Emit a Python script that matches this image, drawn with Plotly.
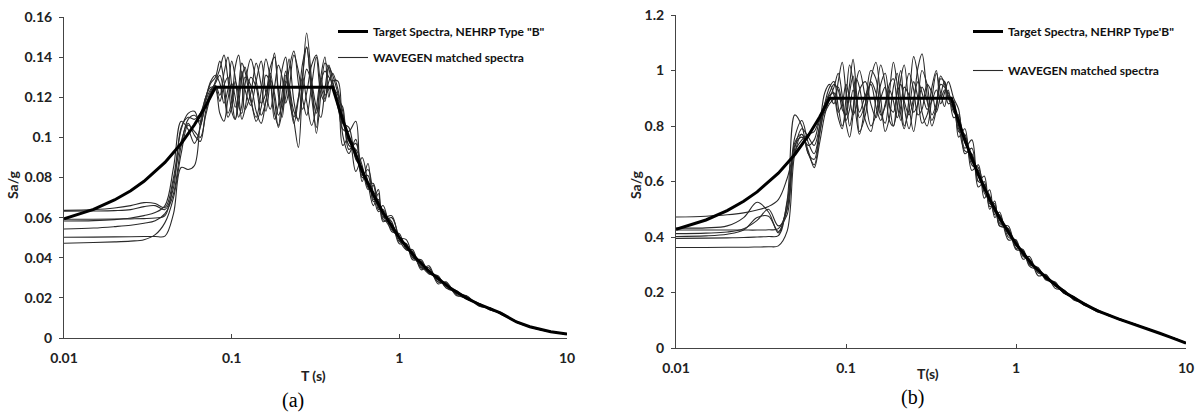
import plotly.graph_objects as go

# ---------------- data ----------------
# Shared period grid (s) for the matched spectra
T = [0.01, 0.015, 0.02, 0.025, 0.03, 0.035, 0.04, 0.045, 0.05, 0.055,
     0.06, 0.065, 0.07, 0.075, 0.08, 0.085, 0.09, 0.095, 0.1, 0.105,
     0.11, 0.115, 0.12, 0.13, 0.14, 0.15, 0.16, 0.17, 0.18, 0.19,
     0.2, 0.21, 0.22, 0.235, 0.25, 0.265, 0.28, 0.3, 0.32, 0.34,
     0.36, 0.38, 0.4, 0.43, 0.46, 0.5, 0.55, 0.6, 0.65, 0.7,
     0.75, 0.8, 0.9, 1.0, 1.1, 1.2, 1.35, 1.5, 1.7, 1.9,
     2.2, 2.5, 3.0, 3.5, 4.0, 5.0, 6.0, 7.0, 8.5, 10.0]

# Target spectrum (a)
T_target_a = [0.01, 0.015, 0.02, 0.025, 0.03, 0.04, 0.05, 0.06, 0.07, 0.08, 0.4, 0.45, 0.5, 0.6,
              0.7, 0.8, 1.0, 1.25, 1.5, 2.0, 2.5, 3.0, 4.0, 5.0, 6.0, 7.0, 8.0, 10.0]
Sa_target_a = [0.0594, 0.0641, 0.0688, 0.0734, 0.0781, 0.0875, 0.0969, 0.1063, 0.1156, 0.125,
               0.125, 0.1111, 0.1, 0.0833, 0.0714, 0.0625, 0.05, 0.04, 0.0333, 0.025, 0.02,
               0.0167, 0.0125, 0.008, 0.0056, 0.0041, 0.0031, 0.002]

# Target spectrum (b)
T_target_b = [0.01, 0.015, 0.02, 0.025, 0.03, 0.04, 0.05, 0.06, 0.07, 0.08, 0.417, 0.45, 0.5, 0.6,
              0.7, 0.8, 1.0, 1.25, 1.5, 2.0, 2.5, 3.0, 4.0, 5.0, 6.0, 7.0, 8.0, 10.0]
Sa_target_b = [0.4275, 0.4613, 0.495, 0.5288, 0.5625, 0.63, 0.6975, 0.765, 0.8325, 0.9,
               0.9, 0.833, 0.75, 0.625, 0.536, 0.469, 0.375, 0.3, 0.255, 0.195, 0.16,
               0.135, 0.105, 0.085, 0.068, 0.053, 0.04, 0.018]

# WAVEGEN matched spectra (a)
A1 = [0.0632, 0.0633, 0.0635, 0.064, 0.0655, 0.066, 0.064, 0.075, 0.105, 0.11, 0.109, 0.112, 0.12, 0.127, 0.13,
      0.138, 0.128, 0.112, 0.118, 0.135, 0.141, 0.128, 0.114, 0.122, 0.137, 0.126, 0.113, 0.129, 0.142, 0.121,
      0.11, 0.127, 0.139, 0.118, 0.108, 0.131, 0.145, 0.124, 0.112, 0.128, 0.133, 0.13, 0.127,
      0.117, 0.104, 0.103, 0.108, 0.08, 0.081, 0.068, 0.069, 0.059, 0.057, 0.048, 0.047, 0.04, 0.038, 0.033,
      0.03, 0.026, 0.0225, 0.0205, 0.0165, 0.0145, 0.0124, 0.0081, 0.0056, 0.0041, 0.0028, 0.002]
A2 = [0.0636, 0.064, 0.0648, 0.066, 0.0675, 0.067, 0.065, 0.08, 0.104, 0.112, 0.113, 0.106, 0.118, 0.124, 0.126,
      0.121, 0.132, 0.14, 0.126, 0.115, 0.121, 0.133, 0.124, 0.116, 0.128, 0.138, 0.122, 0.114, 0.125, 0.136,
      0.13, 0.117, 0.124, 0.141, 0.133, 0.119, 0.111, 0.126, 0.14, 0.122, 0.118, 0.135, 0.131,
      0.122, 0.113, 0.096, 0.094, 0.086, 0.074, 0.076, 0.064, 0.066, 0.053, 0.052, 0.044, 0.043, 0.035, 0.035,
      0.028, 0.027, 0.0215, 0.0198, 0.0172, 0.0138, 0.0127, 0.0079, 0.0057, 0.004, 0.0029, 0.0019]
A3 = [0.0592, 0.0592, 0.0593, 0.0594, 0.0595, 0.0598, 0.061, 0.078, 0.098, 0.107, 0.101, 0.098, 0.113, 0.122, 0.125,
      0.118, 0.126, 0.13, 0.119, 0.109, 0.117, 0.129, 0.135, 0.12, 0.108, 0.115, 0.131, 0.127, 0.112, 0.106,
      0.122, 0.133, 0.119, 0.108, 0.095, 0.128, 0.152, 0.128, 0.102, 0.121, 0.137, 0.134, 0.125,
      0.121, 0.096, 0.1, 0.083, 0.09, 0.077, 0.066, 0.072, 0.058, 0.06, 0.05, 0.045, 0.042, 0.035, 0.034,
      0.028, 0.0275, 0.022, 0.021, 0.016, 0.0148, 0.0122, 0.0082, 0.0055, 0.0042, 0.0028, 0.0021]
A4 = [0.0583, 0.0585, 0.059, 0.0598, 0.061, 0.0625, 0.066, 0.085, 0.108, 0.104, 0.097, 0.105, 0.119, 0.128, 0.131,
      0.127, 0.117, 0.124, 0.138, 0.13, 0.116, 0.112, 0.126, 0.139, 0.128, 0.117, 0.122, 0.135, 0.14, 0.124,
      0.115, 0.12, 0.134, 0.143, 0.127, 0.114, 0.122, 0.136, 0.141, 0.126, 0.119, 0.128, 0.132,
      0.124, 0.11, 0.098, 0.093, 0.081, 0.084, 0.072, 0.063, 0.064, 0.055, 0.05, 0.049, 0.041, 0.036, 0.032,
      0.0305, 0.025, 0.0235, 0.0195, 0.017, 0.014, 0.0128, 0.0079, 0.0056, 0.0041, 0.0028, 0.002]
A5 = [0.0543, 0.0548, 0.0555, 0.0562, 0.0572, 0.0585, 0.062, 0.072, 0.096, 0.109, 0.111, 0.108, 0.116, 0.123, 0.127,
      0.131, 0.122, 0.11, 0.115, 0.128, 0.121, 0.109, 0.114, 0.13, 0.125, 0.111, 0.118, 0.132, 0.119, 0.105,
      0.113, 0.128, 0.124, 0.11, 0.12, 0.13, 0.118, 0.106, 0.115, 0.129, 0.121, 0.124, 0.126,
      0.115, 0.107, 0.105, 0.089, 0.085, 0.075, 0.073, 0.068, 0.061, 0.054, 0.05, 0.046, 0.041, 0.038, 0.0335,
      0.029, 0.0265, 0.023, 0.0202, 0.0168, 0.0145, 0.0125, 0.008, 0.0056, 0.0041, 0.0028, 0.002]
A6 = [0.0502, 0.0503, 0.0504, 0.0505, 0.0506, 0.0506, 0.0508, 0.062, 0.085, 0.084, 0.086, 0.107, 0.12, 0.125, 0.124,
      0.112, 0.108, 0.119, 0.127, 0.12, 0.11, 0.116, 0.13, 0.126, 0.113, 0.107, 0.118, 0.129, 0.122, 0.111,
      0.117, 0.131, 0.126, 0.113, 0.109, 0.122, 0.134, 0.127, 0.115, 0.11, 0.124, 0.136, 0.128,
      0.119, 0.115, 0.094, 0.097, 0.082, 0.077, 0.077, 0.065, 0.062, 0.058, 0.047, 0.047, 0.039, 0.039, 0.032,
      0.031, 0.025, 0.0228, 0.0208, 0.0163, 0.0147, 0.0122, 0.0082, 0.0055, 0.004, 0.0028, 0.002]
A7 = [0.0472, 0.0476, 0.0479, 0.0483, 0.049, 0.0515, 0.0575, 0.07, 0.092, 0.106, 0.103, 0.1, 0.111, 0.121, 0.128,
      0.134, 0.141, 0.129, 0.113, 0.109, 0.124, 0.137, 0.133, 0.118, 0.11, 0.123, 0.139, 0.129, 0.109, 0.116,
      0.134, 0.14, 0.123, 0.107, 0.119, 0.137, 0.145, 0.12, 0.105, 0.13, 0.14, 0.12, 0.128,
      0.128, 0.101, 0.092, 0.099, 0.078, 0.087, 0.069, 0.074, 0.06, 0.061, 0.049, 0.044, 0.044, 0.034, 0.036,
      0.027, 0.028, 0.021, 0.0212, 0.0158, 0.015, 0.012, 0.0083, 0.0057, 0.0041, 0.0028, 0.002]

# WAVEGEN matched spectra (b)
B1 = [0.472, 0.475, 0.48, 0.487, 0.497, 0.51, 0.535, 0.61, 0.71, 0.75, 0.77, 0.78, 0.83, 0.88, 0.92,
      0.95, 0.93, 0.86, 0.84, 0.92, 0.98, 0.9, 0.83, 0.88, 0.96, 0.92, 0.84, 0.87, 0.95, 0.97,
      0.88, 0.82, 0.9, 0.99, 0.93, 0.84, 0.86, 0.95, 0.92, 0.85, 0.91, 0.96, 0.9,
      0.86, 0.8, 0.71, 0.7, 0.6, 0.59, 0.52, 0.51, 0.45, 0.43, 0.37, 0.35, 0.305, 0.285, 0.25,
      0.232, 0.2, 0.182, 0.157, 0.137, 0.117, 0.106, 0.085, 0.068, 0.053, 0.035, 0.018]
B2 = [0.432, 0.433, 0.44, 0.47, 0.525, 0.49, 0.415, 0.52, 0.76, 0.82, 0.74, 0.7, 0.78, 0.86, 0.9,
      0.88, 0.96, 1.03, 0.92, 0.8, 0.86, 0.97, 0.94, 0.82, 0.78, 0.9, 1.02, 0.95, 0.82, 0.8,
      0.93, 1.0, 0.87, 0.79, 0.88, 1.01, 1.06, 0.91, 0.8, 0.86, 0.98, 0.95, 0.88,
      0.89, 0.76, 0.79, 0.64, 0.66, 0.54, 0.57, 0.47, 0.49, 0.39, 0.39, 0.32, 0.33, 0.26, 0.265,
      0.215, 0.21, 0.172, 0.163, 0.131, 0.121, 0.103, 0.086, 0.067, 0.054, 0.034, 0.018]
B3 = [0.425, 0.425, 0.425, 0.425, 0.425, 0.426, 0.43, 0.5, 0.72, 0.79, 0.76, 0.73, 0.8, 0.87, 0.91,
      0.92, 0.85, 0.88, 0.95, 0.9, 0.84, 0.87, 0.93, 0.96, 0.88, 0.83, 0.9, 0.94, 0.87, 0.85,
      0.92, 0.95, 0.89, 0.84, 0.9, 0.96, 0.92, 0.86, 0.89, 0.93, 0.9, 0.93, 0.91,
      0.85, 0.83, 0.74, 0.69, 0.63, 0.57, 0.54, 0.49, 0.47, 0.41, 0.38, 0.335, 0.315, 0.275, 0.258,
      0.225, 0.207, 0.177, 0.161, 0.134, 0.12, 0.104, 0.085, 0.068, 0.053, 0.035, 0.018]
B4 = [0.412, 0.414, 0.418, 0.43, 0.46, 0.5, 0.44, 0.48, 0.74, 0.77, 0.7, 0.66, 0.77, 0.88, 0.94,
      0.96, 0.87, 0.8, 0.85, 0.95, 1.04, 0.93, 0.78, 0.84, 0.97, 1.03, 0.9, 0.78, 0.83, 0.94,
      0.99, 0.89, 0.8, 0.86, 0.96, 0.9, 0.81, 0.84, 0.94, 1.0, 0.88, 0.92, 0.96,
      0.9, 0.86, 0.72, 0.75, 0.6, 0.62, 0.5, 0.53, 0.44, 0.44, 0.36, 0.355, 0.3, 0.29, 0.245,
      0.238, 0.198, 0.185, 0.155, 0.139, 0.116, 0.107, 0.084, 0.069, 0.052, 0.036, 0.017]
B5 = [0.402, 0.404, 0.41, 0.425, 0.47, 0.475, 0.42, 0.5, 0.73, 0.76, 0.73, 0.75, 0.82, 0.85, 0.88,
      0.9, 0.94, 0.88, 0.82, 0.86, 0.93, 0.9, 0.85, 0.91, 0.95, 0.87, 0.82, 0.88, 0.93, 0.89,
      0.83, 0.87, 0.94, 0.91, 0.85, 0.88, 0.94, 0.89, 0.82, 0.87, 0.95, 0.94, 0.92,
      0.87, 0.79, 0.76, 0.66, 0.64, 0.56, 0.53, 0.5, 0.46, 0.42, 0.37, 0.345, 0.31, 0.28, 0.252,
      0.23, 0.203, 0.179, 0.159, 0.136, 0.118, 0.105, 0.085, 0.068, 0.053, 0.035, 0.018]
B6 = [0.395, 0.396, 0.397, 0.398, 0.4, 0.402, 0.405, 0.53, 0.84, 0.8, 0.7, 0.68, 0.8, 0.92, 0.95,
      0.91, 0.83, 0.79, 0.9, 1.02, 0.96, 0.83, 0.77, 0.88, 1.0, 0.97, 0.85, 0.81, 0.92, 1.03,
      0.95, 0.84, 0.79, 0.9, 1.05, 0.98, 0.85, 0.8, 0.9, 0.99, 0.92, 0.87, 0.93,
      0.83, 0.84, 0.7, 0.72, 0.58, 0.6, 0.51, 0.52, 0.44, 0.43, 0.355, 0.35, 0.295, 0.28, 0.25,
      0.228, 0.2, 0.18, 0.158, 0.133, 0.12, 0.104, 0.086, 0.067, 0.053, 0.035, 0.018]
B7 = [0.362, 0.362, 0.363, 0.363, 0.364, 0.365, 0.368, 0.42, 0.7, 0.77, 0.71, 0.65, 0.74, 0.84, 0.9,
      0.94, 0.99, 0.91, 0.81, 0.76, 0.84, 0.96, 1.0, 0.9, 0.8, 0.84, 0.95, 0.99, 0.88, 0.8,
      0.86, 0.97, 1.02, 0.87, 0.78, 0.89, 1.0, 0.95, 0.84, 0.88, 0.97, 0.96, 0.9,
      0.88, 0.78, 0.77, 0.67, 0.65, 0.58, 0.55, 0.48, 0.48, 0.4, 0.385, 0.33, 0.32, 0.27, 0.262,
      0.222, 0.21, 0.175, 0.162, 0.135, 0.121, 0.104, 0.085, 0.069, 0.052, 0.035, 0.019]

matched_a = [A1, A2, A3, A4, A5, A6, A7]
matched_b = [B1, B2, B3, B4, B5, B6, B7]

x_tickvals = [0.01, 0.1, 1, 10]
x_ticktext = ["0.01", "0.1", "1", "10"]
ya_tickvals = [0, 0.02, 0.04, 0.06, 0.08, 0.1, 0.12, 0.14, 0.16]
ya_ticktext = ["0", "0.02", "0.04", "0.06", "0.08", "0.1", "0.12", "0.14", "0.16"]
yb_tickvals = [0, 0.2, 0.4, 0.6, 0.8, 1.0, 1.2]
yb_ticktext = ["0", "0.2", "0.4", "0.6", "0.8", "1", "1.2"]

legend_target_a = 'Target Spectra, NEHRP Type "B"'
legend_target_b = "Target Spectra, NEHRP Type'B\""
legend_matched = "WAVEGEN matched spectra"

# ---------------- figure ----------------
W, H = 1198, 415
FONT = "Lato"
fig = go.Figure()

def add_panel(matched, tt, st, xa, ya, leg, tname):
    for i, s in enumerate(matched):
        fig.add_trace(go.Scatter(
            x=T, y=s, mode="lines", xaxis=xa, yaxis=ya,
            line=dict(color="#2a2a2a", width=1.1, shape="spline", smoothing=1),
            name=legend_matched, legend=leg, legendgroup=leg + "m",
            showlegend=(i == 0), hoverinfo="skip"))
    fig.add_trace(go.Scatter(
        x=tt, y=st, mode="lines", xaxis=xa, yaxis=ya,
        line=dict(color="black", width=3),
        name=tname, legend=leg, legendgroup=leg + "t", legendrank=1,
        hoverinfo="skip"))

add_panel(matched_a, T_target_a, Sa_target_a, "x", "y", "legend", legend_target_a)
add_panel(matched_b, T_target_b, Sa_target_b, "x2", "y2", "legend2", legend_target_b)

tickfont = dict(family=FONT, size=14, color="#222", weight="bold")
axline = dict(showline=True, linecolor="#444", linewidth=1, showgrid=False, zeroline=False,
              mirror=False, tickcolor="#444", ticklen=4, tickwidth=1, tickfont=tickfont,
              automargin=False)

def fx(px):
    return px / W

def fy(py):
    return 1 - py / H

fig.update_layout(
    width=W, height=H,
    margin=dict(l=0, r=0, t=0, b=0, autoexpand=False),
    paper_bgcolor="white", plot_bgcolor="white",
    xaxis=dict(type="log", range=[-2, 1], domain=[fx(64), fx(567)], anchor="y",
               tickvals=x_tickvals, ticktext=x_ticktext, ticks="inside",
               ticklabelstandoff=7, **axline),
    yaxis=dict(range=[0, 0.16], domain=[fy(338), fy(17)], anchor="x",
               tickvals=ya_tickvals, ticktext=ya_ticktext, ticks="outside",
               ticklabelstandoff=4, **axline),
    xaxis2=dict(type="log", range=[-2, 1], domain=[fx(676), fx(1186)], anchor="y2",
                tickvals=x_tickvals, ticktext=x_ticktext, ticks="inside",
                ticklabelstandoff=7, ticklabeloverflow="allow", **axline),
    yaxis2=dict(range=[0, 1.2], domain=[fy(348), fy(15)], anchor="x2",
                tickvals=yb_tickvals, ticktext=yb_ticktext, ticks="outside",
                ticklabelstandoff=4, **axline),
    legend=dict(x=fx(333), y=fy(17), xanchor="left", yanchor="top",
                bgcolor="rgba(0,0,0,0)", tracegroupgap=7, traceorder="grouped",
                font=dict(family=FONT, size=12, color="#111", weight="bold")),
    legend2=dict(x=fx(968), y=fy(17), xanchor="left", yanchor="top",
                 bgcolor="rgba(0,0,0,0)", tracegroupgap=20, traceorder="grouped",
                 font=dict(family=FONT, size=12, color="#111", weight="bold")),
    showlegend=True,
)

lab = dict(family=FONT, size=14, color="#222", weight="bold")
cap = dict(family="Liberation Serif", size=20, color="black")
annos = [
    dict(text="Sa/g", x=fx(12), y=fy(185), textangle=-90, font=lab),
    dict(text="Sa/g", x=fx(635), y=fy(185), textangle=-90, font=lab),
    dict(text="T (s)", x=fx(313), y=fy(375), font=lab),
    dict(text="T(s)", x=fx(928), y=fy(373), font=lab),
    dict(text="(a)", x=fx(293), y=fy(400), font=cap),
    dict(text="(b)", x=fx(912), y=fy(397), font=cap),
]
for a in annos:
    fig.add_annotation(xref="paper", yref="paper", showarrow=False,
                       xanchor="center", yanchor="middle", **a)

# remove the browser's default page margin so the figure sits at the window origin
fig.write_html("out.html",
               config={"displayModeBar": False},
               post_script="document.body.style.margin='0';document.body.style.overflow='hidden';")
